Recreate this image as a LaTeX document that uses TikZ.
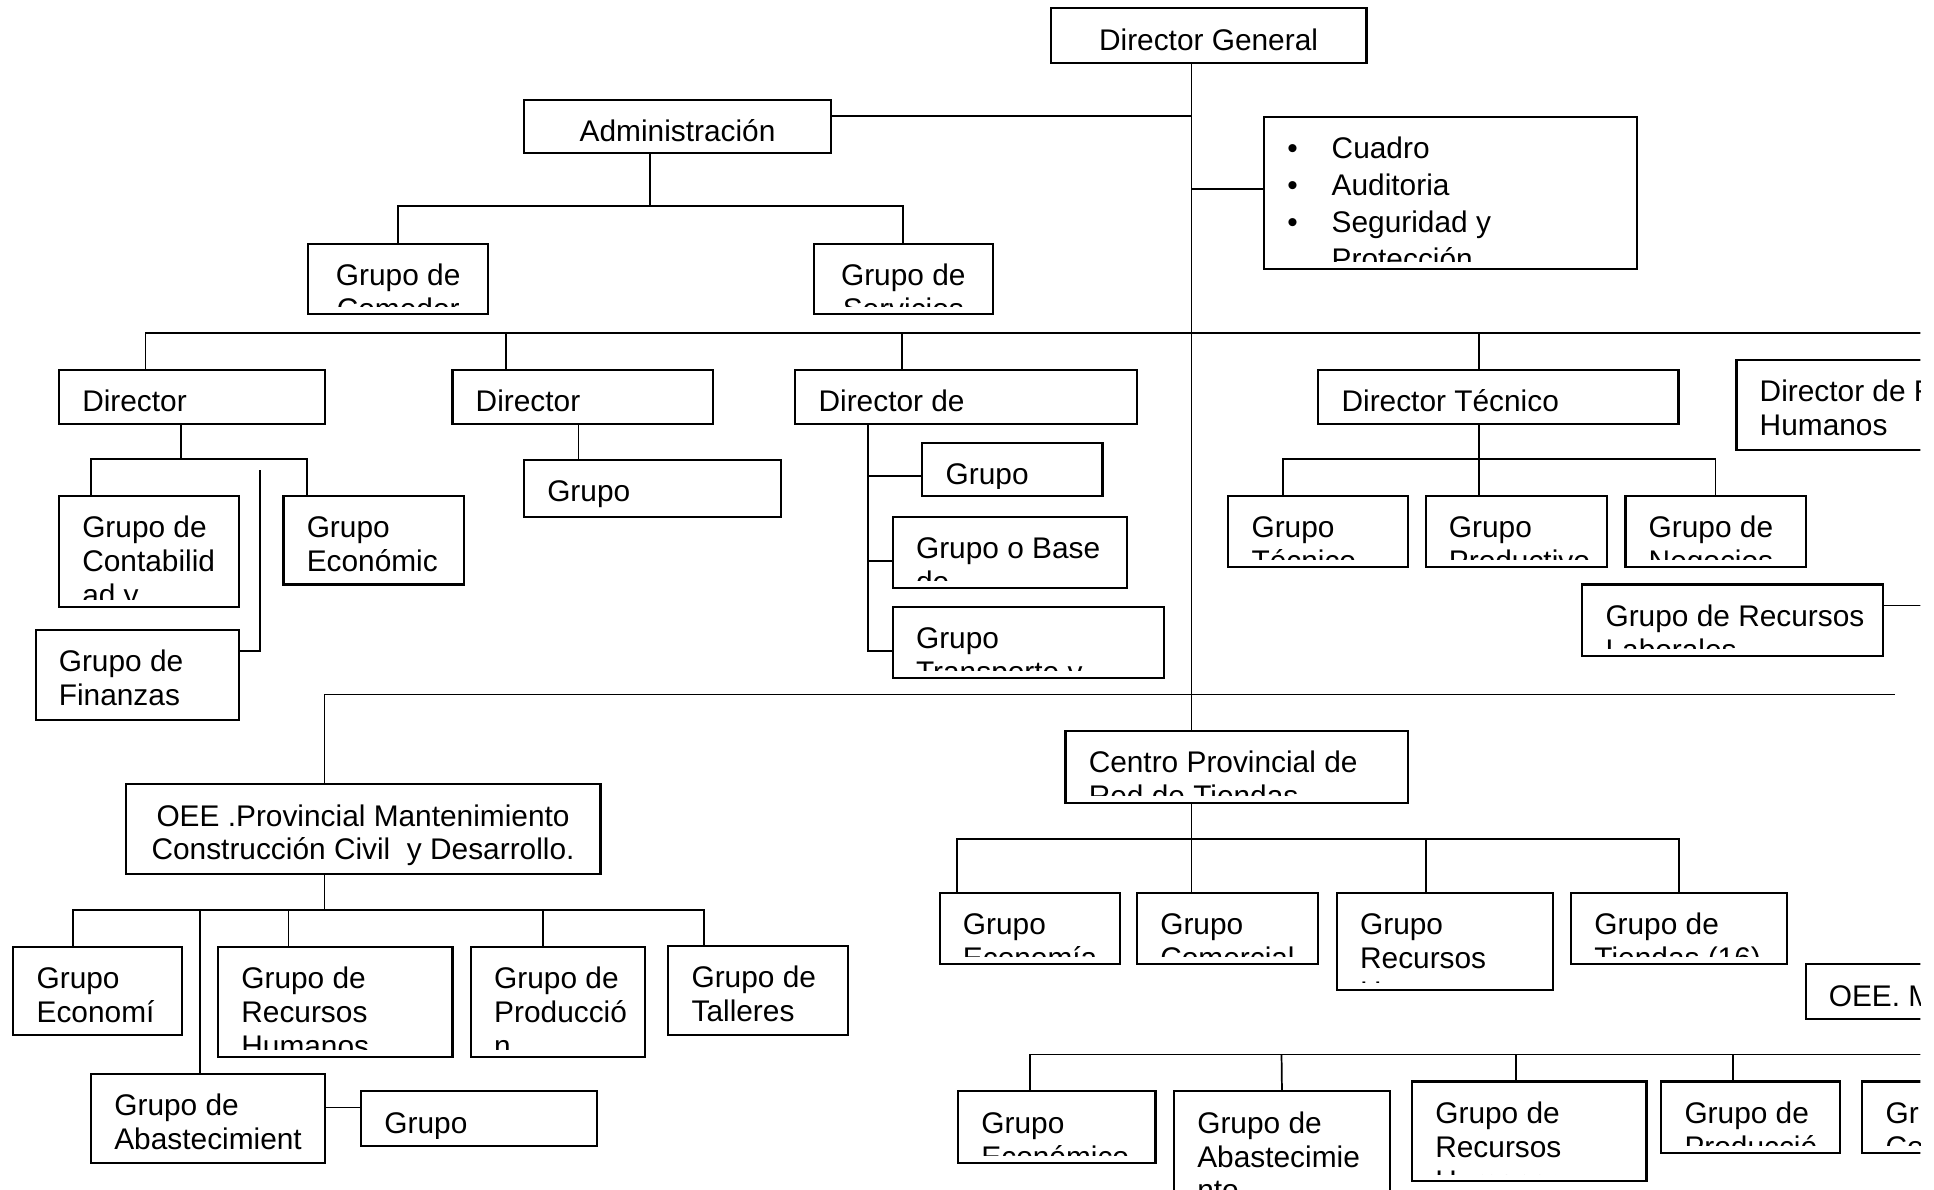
\documentclass[tikz,border=0pt]{standalone}
\usepackage{fontspec}
\setmainfont{Liberation Sans}
\usepackage{tikz}
\tikzstyle{unit} = [draw, line width=1.7pt, inner sep=0pt, anchor=north west]
\tikzstyle{line} = [line width=1.4pt]
\tikzset{
  txt/.style={path picture={
      \clip ([yshift=6pt]path picture bounding box.south west) rectangle (path picture bounding box.north east);
      \node[inner sep=0pt, draw=none, minimum width=0pt, minimum height=0pt, align=left, anchor=north west] (lbl)
        at ([xshift=18pt,yshift=-15pt]path picture bounding box.north west) {\rule{0pt}{18pt}#1};}},
  ctxt/.style={path picture={
      \clip ([yshift=6pt]path picture bounding box.south west) rectangle (path picture bounding box.north east);
      \node[inner sep=0pt, draw=none, minimum width=0pt, minimum height=0pt, align=center, anchor=north] (lbl)
        at ([yshift=-15pt]path picture bounding box.north) {\rule{0pt}{18pt}#1};}},
}

\begin{document}
\begin{tikzpicture}[x=1pt, y=-1pt, font=\fontsize{24.2}{27.5}\selectfont]
    \useasboundingbox (0,0) rectangle (1568,964);
    \clip (0,0) rectangle (1557,964);
    \coordinate (tk) at (966,0);
    \coordinate (edgeR) at (1600,0);
    \coordinate (busend) at (1536,563);
    \coordinate (fcut) at (211,381);

    % Top: Director General
    \node[unit, minimum width=256pt, minimum height=44pt, ctxt={Director General}] (dg) at (851,6) {};
    \node[unit, minimum width=249pt, minimum height=43pt, ctxt={Administración}] (adm) at (424,80) {};
    \node[unit, minimum width=302pt, minimum height=123pt, txt={\makebox[36pt][l]{\textbullet}Cuadro\\[2.5pt]\makebox[36pt][l]{\textbullet}Auditoria\\[2.5pt]\makebox[36pt][l]{\textbullet}Seguridad y\\[2.5pt]\hspace*{36pt}Protección}] (aud) at (1024,94) {};
    \node[unit, minimum width=146pt, minimum height=57pt, ctxt={Grupo de\\Comedor}] (com) at (249,197) {};
    \node[unit, minimum width=145pt, minimum height=57pt, ctxt={Grupo de\\Servicios}] (srv) at (659,197) {};
    \draw[line] (adm.east |- 0,94) -- (tk |- 0,94);
    \draw[line] (tk |- 0,153) -- (aud.west |- 0,153);
    \draw[line] (adm.south -| 527,0) -- (527,167);
    \draw[line] (com.north) -- ++(0,-30) -| (srv.north);

    % Directors
    \node[unit, minimum width=216pt, minimum height=44pt, txt={Director}] (dir1) at (47,299) {};
    \node[unit, minimum width=211pt, minimum height=44pt, txt={Director}] (dir2) at (366,299) {};
    \node[unit, minimum width=277pt, minimum height=44pt, txt={Director de}] (dir3) at (644,299) {};
    \node[unit, minimum width=292pt, minimum height=44pt, txt={Director Técnico}] (dtec) at (1068,299) {};
    \node[unit, minimum width=200pt, minimum height=73pt, txt={Director de R\\Humanos}] (drh) at (1407,291) {};
    \draw[line] (dir1.north -| 118,0) |- (edgeR |- 0,270);
    \draw[line] (dir2.north -| 410,0) -- (410,270);
    \draw[line] (dir3.north -| 731,0) -- (731,270);
    \draw[line] (dtec.north -| 1199,0) -- (1199,270);

    % Director 1
    \node[unit, minimum width=146pt, minimum height=90pt, txt={Grupo de\\Contabilid\\ad y}] (cont) at (47,401) {};
    \node[unit, minimum width=146pt, minimum height=72pt, txt={Grupo\\Económic}] (econ) at (229,401) {};
    \node[unit, minimum width=165pt, minimum height=73pt, txt={Grupo de\\Finanzas}] (fin) at (28,510) {};
    \draw[line] (dir1.south -| 147,0) -- (147,372);
    \draw[line] (cont.north -| 74,0) -- (74,372) -- (249,372) -- (econ.north -| 249,0);
    \draw[line] (fin.east |- 0,528) -- (fcut |- 0,528) -- (fcut);

    % Director 2
    \node[unit, minimum width=208pt, minimum height=46pt, txt={Grupo}] (grp2) at (424,372) {};
    \draw[line] (dir2.south -| 469,0) -- (grp2.north -| 469,0);

    % Director de
    \node[unit, minimum width=146pt, minimum height=43pt, txt={Grupo}] (g31) at (747,358) {};
    \node[unit, minimum width=190pt, minimum height=58pt, txt={Grupo o Base\\de}] (base) at (723,418) {};
    \node[unit, minimum width=220pt, minimum height=58pt, txt={Grupo\\Transporte y}] (trans) at (723,491) {};
    \draw[line] (dir3.south -| 704,0) |- (trans.west |- 0,528);
    \draw[line] (704,386) -- (g31.west |- 0,386);
    \draw[line] (704,455) -- (base.west |- 0,455);

    % Director Tecnico
    \node[unit, minimum width=146pt, minimum height=58pt, txt={Grupo\\Técnico}] (gtec) at (995,401) {};
    \node[unit, minimum width=147pt, minimum height=58pt, txt={Grupo\\Productivo}] (gprod) at (1155,401) {};
    \node[unit, minimum width=146pt, minimum height=58pt, txt={Grupo de\\Negocios}] (gneg) at (1317,401) {};
    \node[unit, minimum width=244pt, minimum height=58pt, txt={Grupo de Recursos\\Laborales}] (lab) at (1282,473) {};
    \draw[line] (dtec.south -| 1199,0) -- (gprod.north -| 1199,0);
    \draw[line] (gtec.north -| 1040,0) -- (1040,372) -- (gneg.north |- 0,372) -- (gneg.north);
    \draw[line] (lab.east |- 0,491) -- (edgeR |- 0,491);

    % OEE Provincial
    \node[unit, minimum width=385pt, minimum height=73pt, ctxt={OEE .Provincial Mantenimiento\\Construcción Civil\ \ y Desarrollo.}] (oee) at (101,635) {};
    \node[unit, minimum width=137pt, minimum height=71pt, txt={Grupo\\Economí}] (gEc) at (10,767) {};
    \node[unit, minimum width=190pt, minimum height=89pt, txt={Grupo de\\Recursos\\Humanos}] (gRHa) at (176,767) {};
    \node[unit, minimum width=141pt, minimum height=89pt, txt={Grupo de\\Producció\\n}] (gPra) at (381,767) {};
    \node[unit, minimum width=146pt, minimum height=72pt, txt={Grupo de\\Talleres}] (gTal) at (541,766) {};
    \node[unit, minimum width=190pt, minimum height=72pt, txt={Grupo de\\Abastecimient}] (abas) at (73,870) {};
    \node[unit, minimum width=191pt, minimum height=44pt, txt={Grupo}] (g5) at (292,884) {};
    \draw[line] (oee.north -| 263,0) |- (busend);
    \draw[line] (oee.south -| 263,0) -- (263,738);
    \draw[line] (gEc.north -| 59,0) -- (59,738) -- (571,738) -- (gTal.north -| 571,0);
    \draw[line] (162,738) -- (abas.north -| 162,0);
    \draw[line] (234,738) -- (gRHa.north -| 234,0);
    \draw[line] (440,738) -- (gPra.north -| 440,0);
    \draw[line] (abas.east |- 0,898) -- (g5.west |- 0,898);

    % Centro Provincial
    \node[unit, minimum width=278pt, minimum height=58pt, txt={Centro Provincial de\\Red de Tiendas}] (cpr) at (863,592) {};
    \node[unit, minimum width=146pt, minimum height=58pt, txt={Grupo\\Economía}] (gE) at (761,723) {};
    \node[unit, minimum width=147pt, minimum height=58pt, txt={Grupo\\Comercial}] (gC) at (921,723) {};
    \node[unit, minimum width=175pt, minimum height=79pt, txt={Grupo\\Recursos\\Humanos}] (gRH) at (1083,723) {};
    \node[unit, minimum width=175pt, minimum height=58pt, txt={Grupo de\\Tiendas (16)}] (gT) at (1273,723) {};
    \draw[line] (dg.south -| tk) -- (cpr.north -| tk);
    \draw[line] (cpr.south -| tk) -- (gC.north -| tk);
    \draw[line] (gE.north -| 776,0) -- (776,680) -- (gT.north |- 0,680) -- (gT.north);
    \draw[line] (gRH.north -| 1156,0) -- (1156,680);

    % OEE M
    \node[unit, minimum width=150pt, minimum height=44pt, txt={OEE. M}] (oeem) at (1463,781) {};
    \node[unit, minimum width=160pt, minimum height=58pt, txt={Grupo\\Económico}] (gEco) at (776,884) {};
    \node[unit, minimum width=175pt, minimum height=120pt, txt={Grupo de\\Abastecimie\\nto}] (gAb) at (951,884) {};
    \node[unit, minimum width=190pt, minimum height=81pt, txt={Grupo de\\Recursos\\Humanos}] (gRHb) at (1144,876) {};
    \node[unit, minimum width=145pt, minimum height=58pt, txt={Grupo de\\Producció}] (gPrb) at (1346,876) {};
    \node[unit, minimum width=100pt, minimum height=58pt, txt={Gr\\Co}] (gGr) at (1509,876) {};
    \draw[line] (gEco.north -| 835,0) |- (edgeR |- 0,855);
    \draw[line] (1039,855) -- (gAb.north);
    \draw[line] (1229,855) -- (gRHb.north -| 1229,0);
    \draw[line] (1405,855) -- (gPrb.north -| 1405,0);
\end{tikzpicture}
\end{document}
